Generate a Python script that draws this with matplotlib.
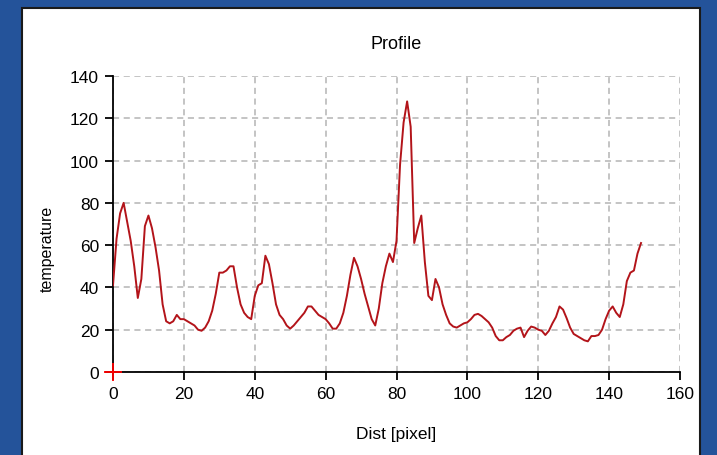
import numpy as np
import matplotlib
matplotlib.use("Agg")
import matplotlib.pyplot as plt
from matplotlib.patches import Rectangle

plt.rcParams['font.family'] = ['Liberation Sans', 'DejaVu Sans']

# temperature profile sampled along the line, one value per pixel step
temperature = [
    41, 63, 75, 80, 71, 62, 50, 35, 44, 69,
    74, 68, 59, 48, 32, 24, 23, 24, 27, 25,
    25, 24, 23, 22, 20, 19.5, 21, 24, 29, 37,
    47, 47, 48, 50, 50, 40, 32, 28, 26, 25,
    36, 41, 42, 55, 51, 42, 32, 27, 25, 22,
    20.5, 22, 24, 26, 28, 31, 31, 29, 27, 26,
    25, 23, 20.5, 20.5, 23, 28, 36, 46, 54, 50,
    44, 37, 31, 25, 22, 30, 42, 50, 56, 52,
    62, 98, 118, 128, 116, 61, 68, 74, 52, 36,
    34, 44, 40, 32, 27, 23, 21.5, 21, 22, 23,
    23.5, 25, 27, 27.5, 26.5, 25, 23.5, 21, 17, 15,
    15, 16.5, 17.5, 19.5, 20.5, 21, 16.5, 19.5, 21.5, 21,
    20, 19.5, 17.5, 19.5, 23, 26, 31, 29.5, 25.5, 21,
    18, 17, 16, 15, 14.5, 17, 17, 17.5, 20, 25,
    29, 31, 28, 26, 32, 43, 47, 48, 56, 61,
]
dist = np.arange(len(temperature))

x_ticks = [0, 20, 40, 60, 80, 100, 120, 140, 160]
y_ticks = [0, 20, 40, 60, 80, 100, 120, 140]

fig = plt.figure(figsize=(7.17, 4.56), dpi=100, facecolor='#24539a')

# white chart panel sitting on the blue slide background
panel = Rectangle((22 / 717, -0.01), (700 - 22) / 717, 1.01 - 9 / 456,
                  transform=fig.transFigure, facecolor='white',
                  edgecolor='#1a1a1a', linewidth=1.5, zorder=-10)
fig.patches.append(panel)

ax = fig.add_axes([113 / 717, 1 - 373 / 456, (680 - 113) / 717, (373 - 77) / 456])
ax.set_facecolor('white')

ax.plot(dist, temperature, color='#b3141a', linewidth=1.4, zorder=3)
ax.plot([0], [0], marker='+', color='red', markersize=13, markeredgewidth=1.3,
        clip_on=False, zorder=4)

ax.set_xlim(0, 160)
ax.set_ylim(0, 140)
ax.set_xticks(x_ticks)
ax.set_yticks(y_ticks)
ax.grid(True, color='#b4b4b4', linestyle=(0, (4, 3)), linewidth=1.1)
ax.set_axisbelow(True)

for side in ('top', 'right'):
    ax.spines[side].set_visible(False)
for side in ('left', 'bottom'):
    ax.spines[side].set_color('black')
    ax.spines[side].set_linewidth(1.3)
ax.tick_params(direction='out', length=6, width=1.3, color='black',
               labelsize=12.5, pad=4)

ax.set_title('Profile', fontsize=13, pad=20)
ax.set_xlabel('Dist [pixel]', fontsize=12.5, labelpad=18)
ax.set_ylabel('temperature', fontsize=11.5)
ax.yaxis.set_label_coords(-0.103, 0.42)

fig.savefig('out.png', dpi=100, facecolor=fig.get_facecolor())
